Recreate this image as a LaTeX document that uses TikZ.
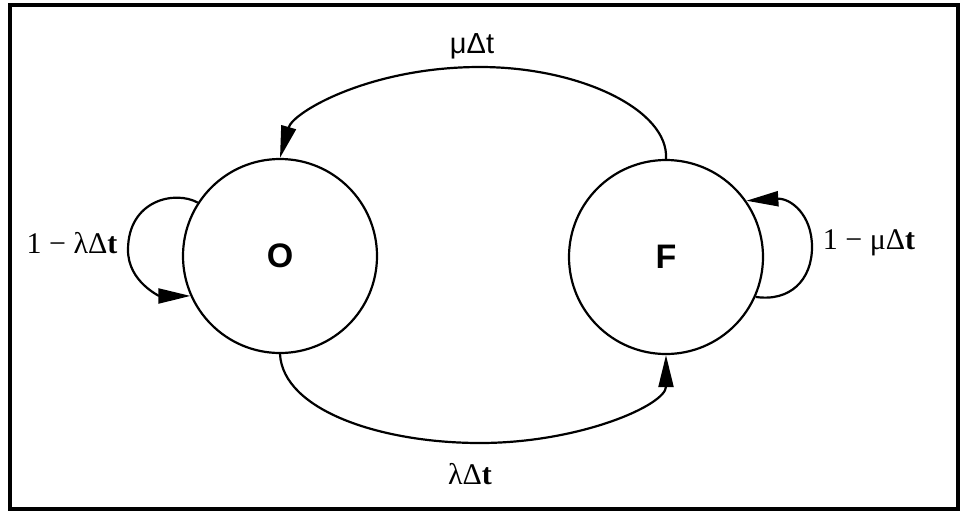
\documentclass[tikz,border=0pt]{standalone}
\usepackage{fontspec}
\setmainfont{Liberation Serif}
\newfontfamily\sansf{Liberation Sans}
\usetikzlibrary{arrows.meta}
\begin{document}
\begin{tikzpicture}[x=1pt,y=-1pt, line width=2.2pt,
  state/.style={circle, draw, minimum size=194pt, inner sep=0pt, font=\sansf\bfseries\fontsize{34}{40}\selectfont},
  lab/.style={font=\fontsize{30}{32}\selectfont, inner sep=0pt},
  toplab/.style={font=\sansf\fontsize{29}{32}\selectfont, inner sep=0pt},
  arr/.style={-{Triangle[length=32pt,width=15pt]}}]
\useasboundingbox (0,0) rectangle (961,512);
\draw[line width=3.5pt] (10,5) rectangle (958,509);
\node[state] (O) at (280,256) {O};
\node[state] (F) at (666,257) {F};
% top transition F -> O
\draw[arr] (F.north) .. controls (669,110) and (580,67) .. (480,67)
  .. controls (370,67) and (293,112) .. (O.north);
% bottom transition O -> F
\draw[arr] (O.south) .. controls (283,410) and (380,443) .. (480,443)
  .. controls (580,443) and (666,405) .. (F.south);
% self loops
\draw[arr] (O.147) .. controls (175,190) and (128,200) .. (128,250)
  .. controls (128,282) and (160,296) .. (O.204);
\draw[arr] (F.-24) .. controls (790,302) and (812,280) .. (812,247)
  .. controls (812,214) and (790,198) .. (F.35);
% labels
\node[toplab] (mu) at (472,46) {μΔt};
\node[lab] (la) at (470,474) {λΔ\textbf{t}};
\node[lab] (sl) at (72,243) {1 − λΔ\textbf{t}};
\node[lab] (sr) at (869,243) {1 − μΔ\textbf{t}};
\end{tikzpicture}
\end{document}
